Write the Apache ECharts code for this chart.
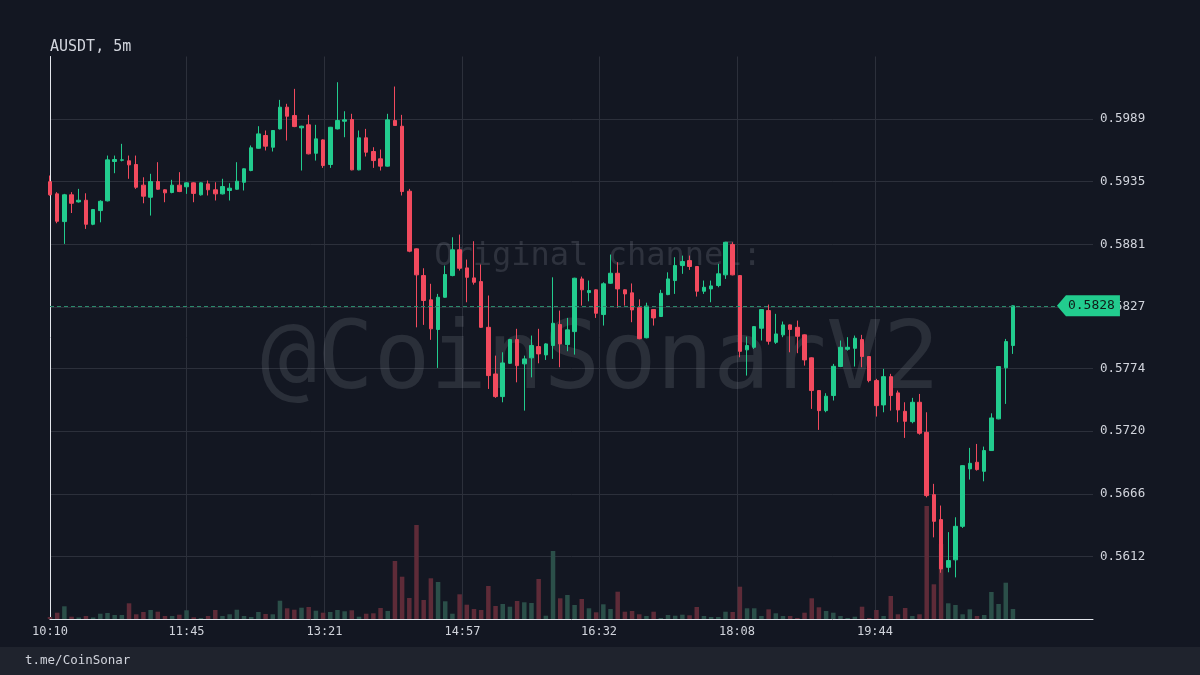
<!DOCTYPE html>
<html><head><meta charset="utf-8">
<script src="https://cdn.jsdelivr.net/npm/echarts@6/dist/echarts.min.js"></script>
<style>html,body{margin:0;padding:0;background:#131722}#c{width:1200px;height:675px}</style>
</head><body><div id="c"></div>
<script>
const chartTitle = 'AUSDT, 5m';
const footerText = 't.me/CoinSonar';
const watermarkTop = 'Original channel:';
const watermarkMain = '@CoinSonarV2';
const startTime = '10:10';
const stepMinutes = 5;
const xTickLabels = ['10:10','11:45','13:21','14:57','16:32','18:08','19:44'];
const yTickLabels = ['0.5612','0.5666','0.5720','0.5774','0.5827','0.5881','0.5935','0.5989'];
const lastPrice = 0.5828;

const opens = [
0.59350,0.59245,0.59006,0.59237,0.59176,0.59190,0.58983,0.59101,0.59185,0.59524,
0.59535,0.59530,0.59498,0.59320,0.59216,0.59351,0.59280,0.59257,0.59320,0.59306,
0.59340,0.59237,0.59331,0.59280,0.59245,0.59274,0.59285,0.59345,0.59446,0.59638,
0.59748,0.59647,0.59805,0.59992,0.59920,0.59814,0.59840,0.59595,0.59710,0.59498,
0.59805,0.59871,0.59886,0.59452,0.59728,0.59610,0.59547,0.59484,0.59877,0.59828,
0.59268,0.58771,0.58541,0.58332,0.58076,0.58354,0.58541,0.58763,0.58607,0.58521,
0.58489,0.58095,0.57693,0.57498,0.57785,0.57989,0.57780,0.57832,0.57929,0.57857,
0.57938,0.58119,0.57946,0.58058,0.58512,0.58394,0.58418,0.58205,0.58475,0.58561,
0.58418,0.58392,0.58264,0.58005,0.58248,0.58188,0.58377,0.58498,0.58627,0.58670,
0.58619,0.58406,0.58426,0.58455,0.58547,0.58808,0.58541,0.57901,0.57923,0.58087,
0.58239,0.57966,0.58030,0.58116,0.58095,0.58030,0.57832,0.57550,0.57377,0.57507,
0.57757,0.57906,0.57914,0.57989,0.57843,0.57636,0.57426,0.57670,0.57530,0.57371,
0.57282,0.57449,0.57190,0.56653,0.56438,0.56027,0.56091,0.56380,0.56875,0.56932,
0.56854,0.57033,0.57306,0.57746,0.57938];
const closes = [
0.59237,0.59009,0.59237,0.59164,0.59190,0.58983,0.59110,0.59181,0.59538,0.59541,
0.59538,0.59495,0.59302,0.59225,0.59351,0.59285,0.59254,0.59320,0.59265,0.59340,
0.59249,0.59340,0.59280,0.59245,0.59308,0.59294,0.59354,0.59461,0.59642,0.59762,
0.59656,0.59791,0.59992,0.59914,0.59825,0.59828,0.59590,0.59719,0.59489,0.59819,
0.59877,0.59883,0.59452,0.59728,0.59604,0.59532,0.59484,0.59883,0.59834,0.59265,
0.58751,0.58547,0.58326,0.58082,0.58354,0.58550,0.58763,0.58604,0.58526,0.58483,
0.58095,0.57679,0.57498,0.57788,0.57989,0.57765,0.57823,0.57938,0.57866,0.57952,
0.58130,0.57952,0.58073,0.58518,0.58418,0.58412,0.58216,0.58470,0.58561,0.58426,
0.58383,0.58245,0.57997,0.58278,0.58176,0.58388,0.58512,0.58627,0.58662,0.58619,
0.58406,0.58440,0.58452,0.58556,0.58828,0.58547,0.57888,0.57938,0.58101,0.58248,
0.57975,0.58038,0.58116,0.58076,0.58018,0.57814,0.57550,0.57377,0.57501,0.57759,
0.57923,0.57923,0.58001,0.57843,0.57636,0.57420,0.57670,0.57507,0.57383,0.57285,
0.57449,0.57182,0.56645,0.56423,0.56013,0.56085,0.56380,0.56903,0.56923,0.56869,
0.57033,0.57314,0.57757,0.57972,0.58280];
const lows = [
0.59230,0.58992,0.58814,0.59080,0.59170,0.58943,0.58975,0.59000,0.59180,0.59423,
0.59525,0.59375,0.59288,0.59164,0.59058,0.59280,0.59173,0.59250,0.59260,0.59245,
0.59173,0.59230,0.59231,0.59188,0.59240,0.59188,0.59280,0.59274,0.59440,0.59635,
0.59619,0.59610,0.59800,0.59705,0.59820,0.59446,0.59585,0.59532,0.59469,0.59469,
0.59800,0.59733,0.59448,0.59448,0.59567,0.59469,0.59446,0.59480,0.59830,0.59231,
0.58742,0.58095,0.58116,0.57987,0.57745,0.58350,0.58535,0.58584,0.58311,0.58463,
0.58090,0.57564,0.57487,0.57449,0.57780,0.57621,0.57377,0.57664,0.57785,0.57814,
0.57823,0.57751,0.57889,0.57860,0.58282,0.58319,0.58176,0.58110,0.58470,0.58264,
0.58282,0.58139,0.57992,0.58000,0.58110,0.58184,0.58372,0.58383,0.58556,0.58590,
0.58360,0.58383,0.58311,0.58440,0.58512,0.58543,0.57837,0.57679,0.57909,0.57981,
0.57946,0.57952,0.58010,0.57880,0.57872,0.57765,0.57392,0.57211,0.57363,0.57464,
0.57752,0.57894,0.57757,0.57751,0.57621,0.57326,0.57363,0.57377,0.57277,0.57142,
0.57268,0.57170,0.56630,0.56285,0.55980,0.55984,0.55940,0.56366,0.56783,0.56860,
0.56768,0.57030,0.57302,0.57435,0.57866];
const highs = [
0.59403,0.59260,0.59245,0.59260,0.59288,0.59250,0.59115,0.59190,0.59575,0.59575,
0.59676,0.59575,0.59575,0.59388,0.59418,0.59518,0.59285,0.59366,0.59432,0.59345,
0.59345,0.59345,0.59360,0.59345,0.59375,0.59337,0.59518,0.59465,0.59662,0.59828,
0.59791,0.59795,0.60055,0.60021,0.60150,0.59832,0.59926,0.59840,0.59715,0.59822,
0.60207,0.59957,0.59935,0.59791,0.59805,0.59647,0.59627,0.59935,0.60170,0.59926,
0.59288,0.58775,0.58604,0.58470,0.58383,0.58627,0.58871,0.58894,0.58679,0.58837,
0.58636,0.58369,0.57851,0.57880,0.57995,0.58082,0.57851,0.58024,0.58082,0.57958,
0.58526,0.58239,0.58176,0.58522,0.58532,0.58498,0.58422,0.58483,0.58722,0.58656,
0.58422,0.58473,0.58336,0.58307,0.58252,0.58418,0.58569,0.58699,0.58713,0.58713,
0.58623,0.58498,0.58498,0.58642,0.58832,0.58828,0.58545,0.58015,0.58105,0.58252,
0.58291,0.58211,0.58145,0.58120,0.58153,0.58034,0.57836,0.57554,0.57527,0.57780,
0.57981,0.58010,0.58024,0.58030,0.57847,0.57651,0.57737,0.57694,0.57550,0.57449,
0.57487,0.57521,0.57363,0.56746,0.56559,0.56330,0.56458,0.56907,0.57056,0.57090,
0.57067,0.57354,0.57760,0.57995,0.58284];
const volumes = [
2,6.3,12.7,2.3,1.5,3,1.5,5.3,6,4,
4,15.7,4.7,7,9,7.3,3,3,4.3,8.7,
1.7,1,3,9,3,4.7,9.3,3,2,7,
5,4.7,18.3,10.7,9.3,11.3,12,8.3,6.3,7,
9,7.7,8.7,2.3,5.3,5.7,11,8,58,42.3,
21,94,19,40.7,37,17.7,5.3,24.7,14.3,10,
9,33,13,15,12.3,18,16.7,16,40,3.3,
68,20.7,24,14,20,10.7,6.7,14.7,10,27.3,
7.3,8,4.7,3,7.3,1,4,3.3,4.3,3.7,
12,3,2,2,7.3,7,32.3,10.7,10.7,3,
9.7,5.7,3,3,1,6.3,20.7,11.7,8,6.3,
3,1,2.3,12.3,1,9,3,23,4.7,11,
3,4.7,113,34.7,75,15.7,14,4.7,9.7,3,
4,27,15,36.3,10];

const UP = '#22cc8e', DOWN = '#f24a5e';
const VOL_UP = '#2b4f49', VOL_DOWN = '#5e2b38';
const TEXT = '#d1d4dc', GRID = '#2c303b', AXIS = '#e3e6ec';
const MONO = '"DejaVu Sans Mono", "Liberation Mono", monospace';

const toMin = s => { const p = s.split(':').map(Number); return p[0] * 60 + p[1]; };
const t0 = toMin(startTime);
const xs = opens.map((_, i) => i * stepMinutes);
const xTickVals = xTickLabels.map(s => toMin(s) - t0);
const yTickVals = yTickLabels.map(Number);

const candleData = opens.map((o, i) => [xs[i], o, closes[i], lows[i], highs[i]]);
const volData = volumes.map((v, i) => ({
  value: [xs[i], v],
  itemStyle: { color: closes[i] >= opens[i] ? VOL_UP : VOL_DOWN }
}));

const chart = echarts.init(document.getElementById('c'), null, { renderer: 'canvas' });
chart.setOption({
  animation: false,
  backgroundColor: '#131722',
  title: {
    text: chartTitle, left: 50, top: 40, padding: 0,
    textStyle: { color: TEXT, fontFamily: MONO, fontSize: 15, fontWeight: 'normal' }
  },
  grid: { left: 50, right: 107, top: 56.5, bottom: 56 },
  xAxis: {
    type: 'value', min: 0, max: 725.7,
    axisLine: { show: true, onZero: false, lineStyle: { color: AXIS, width: 1 } },
    axisTick: { show: false, customValues: xTickVals },
    axisLabel: {
      customValues: xTickVals, color: TEXT, fontFamily: MONO, fontSize: 12, margin: 7,
      formatter: v => { const k = xTickVals.indexOf(v); return k >= 0 ? xTickLabels[k] : ''; }
    },
    splitLine: { show: true, lineStyle: { color: GRID, width: 1 } }
  },
  yAxis: [{
    type: 'value', position: 'right', min: 0.555814, max: 0.604288, scale: true,
    axisLine: { show: true, lineStyle: { color: AXIS, width: 1 } },
    axisTick: { show: false, customValues: yTickVals },
    axisLabel: {
      customValues: yTickVals, color: TEXT, fontFamily: MONO, fontSize: 12.5, margin: 7,
      formatter: v => { const k = yTickVals.indexOf(v); return k >= 0 ? yTickLabels[k] : ''; }
    },
    splitLine: { show: true, lineStyle: { color: GRID, width: 1 } }
  }, {
    type: 'value', min: 0, max: 562.5, show: false
  }],
  graphic: [
    { type: 'rect', z: 0, shape: { x: 0, y: 647, width: 1200, height: 28 }, style: { fill: '#1f232d' } },
    { type: 'text', z: 1, x: 25, y: 661, style: { text: footerText, fill: TEXT, font: '12.5px ' + MONO, verticalAlign: 'middle' } },
    { type: 'text', z: 1, x: 598, y: 257, style: { text: watermarkTop, fill: 'rgba(200,205,220,0.15)', font: '32px ' + MONO, align: 'center', verticalAlign: 'middle' } },
    { type: 'text', z: 1, x: 600, y: 364, style: { text: watermarkMain, fill: 'rgba(200,205,220,0.13)', font: '94px ' + MONO, align: 'center', verticalAlign: 'middle' } }
  ],
  series: [{
    type: 'bar', xAxisIndex: 0, yAxisIndex: 1, data: volData, barWidth: 4.5, z: 2,
    silent: true
  }, {
    type: 'candlestick', xAxisIndex: 0, yAxisIndex: 0, data: candleData, barWidth: 4, z: 3,
    itemStyle: { color: UP, color0: DOWN, borderColor: UP, borderColor0: DOWN, borderWidth: 1 },
    markLine: {
      silent: true, symbol: 'none', animation: false, precision: 6,
      lineStyle: { color: '#2b8a6c', width: 1, type: [4, 3] },
      label: { show: false },
      data: [{ yAxis: lastPrice }]
    },
    markPoint: {
      silent: true, animation: false,
      symbol: 'path://M0,10.5 L9,0 L63,0 L63,21 L9,21 Z',
      symbolSize: [63, 21], symbolOffset: [75.5, 0],
      itemStyle: { color: UP },
      label: { show: true, position: 'inside', offset: [3, 0], color: '#101a16', fontFamily: MONO, fontSize: 13,
        formatter: () => lastPrice.toFixed(4) },
      data: [{ coord: [xs[xs.length - 1], lastPrice] }]
    }
  }]
});
</script>
</body></html>
